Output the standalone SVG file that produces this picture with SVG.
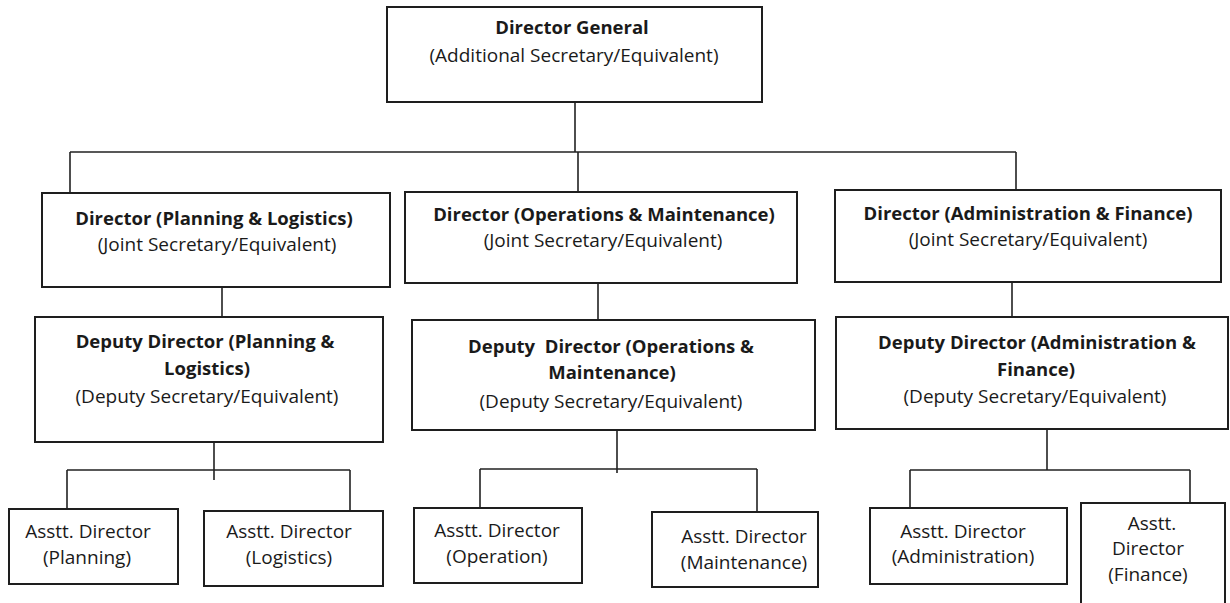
<svg xmlns="http://www.w3.org/2000/svg" width="1230" height="603" viewBox="0 0 1230 603">
<style>
.box{fill:#fff;stroke:#1e1e1e;stroke-width:2}
.ln{stroke:#222;stroke-width:1.6;fill:none}
text{font-family:"Open Sans",Lato,"Liberation Sans",sans-serif;font-size:19px;fill:#1a1a1a;text-anchor:middle}
.b{font-weight:bold;font-size:18.5px}
</style>
<rect width="1230" height="603" fill="#fff"/>
<g id="connectors">
<path class="ln" d="M575 102V152M70 152H1016M70 152V193M578 152V192M1016 152V190"/>
<path class="ln" d="M222 287V317M598 283V320M1012 282V317"/>
<path class="ln" d="M214 442V480M67 470H350M67 470V509M350 470V511"/>
<path class="ln" d="M617 430V473M480 469H757M480 469V508M757 469V512"/>
<path class="ln" d="M1047 430V470M910 470H1190M910 470V508M1190 470V503"/>
</g>
<g id="dg">
<rect class="box" x="387" y="7" width="375" height="95"/>
<text class="b" x="572" y="34">Director General</text>
<text x="574" y="62">(Additional Secretary/Equivalent)</text>
</g>
<g id="dir-pl">
<rect class="box" x="42" y="193" width="348" height="94"/>
<text class="b" x="214" y="225">Director (Planning &amp; Logistics)</text>
<text x="217" y="251">(Joint Secretary/Equivalent)</text>
</g>
<g id="dir-om">
<rect class="box" x="405" y="192" width="392" height="91"/>
<text class="b" x="604" y="221">Director (Operations &amp; Maintenance)</text>
<text x="603" y="247">(Joint Secretary/Equivalent)</text>
</g>
<g id="dir-af">
<rect class="box" x="835" y="190" width="386" height="92"/>
<text class="b" x="1028" y="220">Director (Administration &amp; Finance)</text>
<text x="1028" y="246">(Joint Secretary/Equivalent)</text>
</g>
<g id="dd-pl">
<rect class="box" x="35" y="317" width="348" height="125"/>
<text class="b" x="205" y="348">Deputy Director (Planning &amp;</text>
<text class="b" x="207" y="375">Logistics)</text>
<text x="207" y="403">(Deputy Secretary/Equivalent)</text>
</g>
<g id="dd-om">
<rect class="box" x="412" y="320" width="403" height="110"/>
<text class="b" x="611" y="353" xml:space="preserve">Deputy  Director (Operations &amp;</text>
<text class="b" x="612" y="379">Maintenance)</text>
<text x="611" y="408">(Deputy Secretary/Equivalent)</text>
</g>
<g id="dd-af">
<rect class="box" x="836" y="317" width="392" height="112"/>
<text class="b" x="1037" y="349">Deputy Director (Administration &amp;</text>
<text class="b" x="1036" y="376">Finance)</text>
<text x="1035" y="403">(Deputy Secretary/Equivalent)</text>
</g>
<g id="ad-planning">
<rect class="box" x="9" y="509" width="169" height="75"/>
<text x="88" y="538">Asstt. Director</text>
<text x="87" y="564">(Planning)</text>
</g>
<g id="ad-logistics">
<rect class="box" x="204" y="511" width="179" height="75"/>
<text x="289" y="538">Asstt. Director</text>
<text x="289" y="564">(Logistics)</text>
</g>
<g id="ad-operation">
<rect class="box" x="414" y="508" width="168" height="75"/>
<text x="497" y="537">Asstt. Director</text>
<text x="497" y="563">(Operation)</text>
</g>
<g id="ad-maintenance">
<rect class="box" x="652" y="512" width="166" height="75"/>
<text x="744" y="543">Asstt. Director</text>
<text x="744" y="569">(Maintenance)</text>
</g>
<g id="ad-administration">
<rect class="box" x="870" y="508" width="197" height="76"/>
<text x="963" y="538">Asstt. Director</text>
<text x="963" y="563">(Administration)</text>
</g>
<g id="ad-finance">
<rect class="box" x="1081" y="503" width="144" height="104"/>
<text x="1152" y="530">Asstt.</text>
<text x="1148" y="555">Director</text>
<text x="1148" y="581">(Finance)</text>
</g>
</svg>
